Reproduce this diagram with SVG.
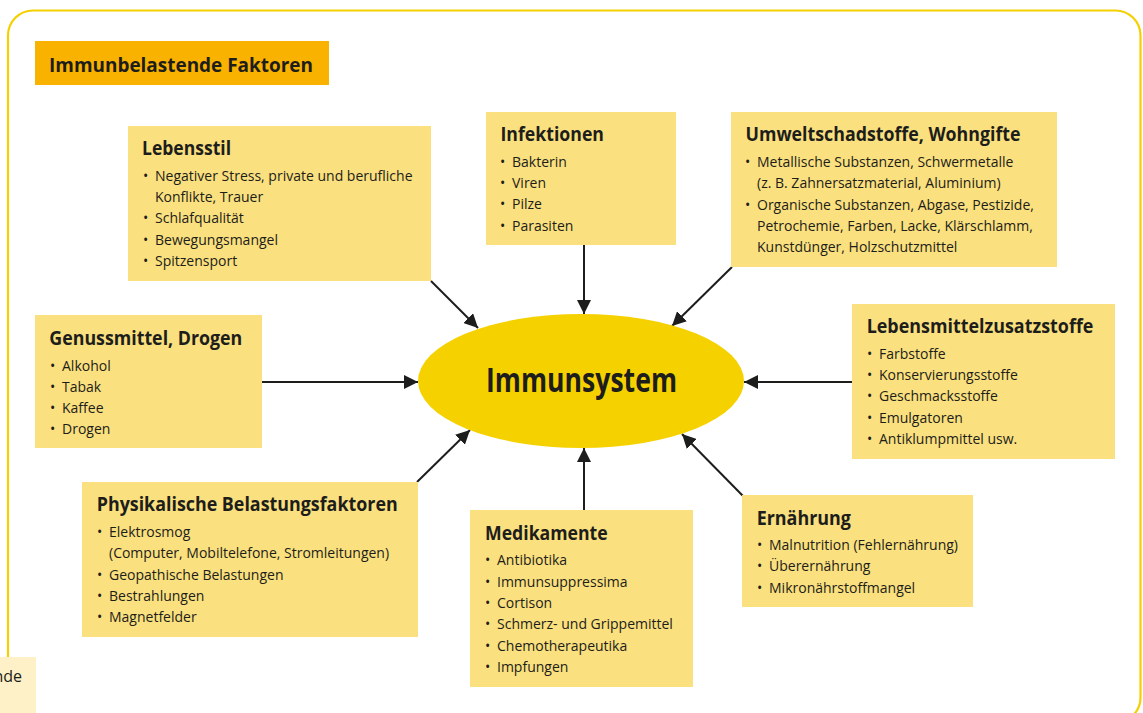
<svg xmlns="http://www.w3.org/2000/svg" width="1143" height="713" viewBox="0 0 1143 713">
<defs>
<style>
.box{fill:#FAE07E}
.t{font-family:"Open Sans","Noto Sans",sans-serif;font-weight:700;font-size:20px;fill:#1d1d1b}
.i{font-family:"Open Sans","Noto Sans",sans-serif;font-size:14px;font-weight:500;fill:#1d1d1b}
.c{stroke:#1d1d1b;stroke-width:2;fill:none}
</style>
<marker id="ah" viewBox="0 0 14 14" refX="14" refY="7" markerWidth="14" markerHeight="14" markerUnits="userSpaceOnUse" orient="auto">
<path d="M0,0 L14,7 L0,14 Z" fill="#1d1d1b"/>
</marker>
</defs>
<rect width="1143" height="713" fill="#fff"/>
<rect x="8" y="10.5" width="1132.5" height="712" rx="25" fill="none" stroke="#F5D000" stroke-width="2.2"/>
<rect x="35" y="41" width="294" height="44" fill="#F9B200"/>
<text x="49" y="72" class="t" textLength="264" lengthAdjust="spacingAndGlyphs">Immunbelastende Faktoren</text>

<g id="connectors">
<line class="c" x1="431" y1="281" x2="478" y2="328" marker-end="url(#ah)"/>
<line class="c" x1="584" y1="245" x2="584" y2="314" marker-end="url(#ah)"/>
<line class="c" x1="732" y1="267" x2="672" y2="326" marker-end="url(#ah)"/>
<line class="c" x1="262" y1="382" x2="418" y2="382" marker-end="url(#ah)"/>
<line class="c" x1="852" y1="382" x2="744" y2="382" marker-end="url(#ah)"/>
<line class="c" x1="417" y1="482" x2="470" y2="430" marker-end="url(#ah)"/>
<line class="c" x1="584" y1="510" x2="584" y2="448" marker-end="url(#ah)"/>
<line class="c" x1="743" y1="496" x2="682" y2="434" marker-end="url(#ah)"/>
</g>

<g id="immunsystem">
<ellipse cx="581" cy="381" rx="163" ry="67" fill="#F6D100"/>
<text x="486" y="392" class="t" style="font-size:34px" textLength="191" lengthAdjust="spacingAndGlyphs">Immunsystem</text>
</g>

<g id="lebensstil">
<rect class="box" x="128" y="126" width="303" height="155"/>
<text class="t" x="142" y="155" textLength="89" lengthAdjust="spacingAndGlyphs">Lebensstil</text>
<text class="i" x="143" y="181">•</text><text class="i" x="155" y="181">Negativer Stress, private und berufliche</text>
<text class="i" x="155" y="202">Konflikte, Trauer</text>
<text class="i" x="143" y="223">•</text><text class="i" x="155" y="223">Schlafqualität</text>
<text class="i" x="143" y="245">•</text><text class="i" x="155" y="245">Bewegungsmangel</text>
<text class="i" x="143" y="266">•</text><text class="i" x="155" y="266">Spitzensport</text>
</g>

<g id="infektionen">
<rect class="box" x="486" y="112" width="190" height="133"/>
<text class="t" x="500.5" y="141" textLength="103.5" lengthAdjust="spacingAndGlyphs">Infektionen</text>
<text class="i" x="500" y="167">•</text><text class="i" x="512" y="167">Bakterin</text>
<text class="i" x="500" y="188">•</text><text class="i" x="512" y="188">Viren</text>
<text class="i" x="500" y="209">•</text><text class="i" x="512" y="209">Pilze</text>
<text class="i" x="500" y="231">•</text><text class="i" x="512" y="231">Parasiten</text>
</g>

<g id="umwelt">
<rect class="box" x="731" y="112" width="326" height="155"/>
<text class="t" x="745.5" y="141" textLength="275" lengthAdjust="spacingAndGlyphs">Umweltschadstoffe, Wohngifte</text>
<text class="i" x="745" y="167">•</text><text class="i" x="757" y="167">Metallische Substanzen, Schwermetalle</text>
<text class="i" x="757" y="188">(z. B. Zahnersatzmaterial, Aluminium)</text>
<text class="i" x="745" y="210">•</text><text class="i" x="757" y="210">Organische Substanzen, Abgase, Pestizide,</text>
<text class="i" x="757" y="231">Petrochemie, Farben, Lacke, Klärschlamm,</text>
<text class="i" x="757" y="252">Kunstdünger, Holzschutzmittel</text>
</g>

<g id="genussmittel">
<rect class="box" x="35" y="315" width="227" height="133"/>
<text class="t" x="49.3" y="345" textLength="193" lengthAdjust="spacingAndGlyphs">Genussmittel, Drogen</text>
<text class="i" x="50" y="371">•</text><text class="i" x="62" y="371">Alkohol</text>
<text class="i" x="50" y="392">•</text><text class="i" x="62" y="392">Tabak</text>
<text class="i" x="50" y="413">•</text><text class="i" x="62" y="413">Kaffee</text>
<text class="i" x="50" y="434">•</text><text class="i" x="62" y="434">Drogen</text>
</g>

<g id="lebensmittel">
<rect class="box" x="852" y="304" width="263" height="155"/>
<text class="t" x="866.7" y="333" textLength="226.6" lengthAdjust="spacingAndGlyphs">Lebensmittelzusatzstoffe</text>
<text class="i" x="867" y="359">•</text><text class="i" x="879" y="359">Farbstoffe</text>
<text class="i" x="867" y="380">•</text><text class="i" x="879" y="380">Konservierungsstoffe</text>
<text class="i" x="867" y="401">•</text><text class="i" x="879" y="401">Geschmacksstoffe</text>
<text class="i" x="867" y="423">•</text><text class="i" x="879" y="423">Emulgatoren</text>
<text class="i" x="867" y="444">•</text><text class="i" x="879" y="444">Antiklumpmittel usw.</text>
</g>

<g id="physikalisch">
<rect class="box" x="82" y="482" width="336" height="155"/>
<text class="t" x="96.7" y="511" textLength="301" lengthAdjust="spacingAndGlyphs">Physikalische Belastungsfaktoren</text>
<text class="i" x="97" y="537">•</text><text class="i" x="109" y="537">Elektrosmog</text>
<text class="i" x="109" y="558">(Computer, Mobiltelefone, Stromleitungen)</text>
<text class="i" x="97" y="580">•</text><text class="i" x="109" y="580">Geopathische Belastungen</text>
<text class="i" x="97" y="601">•</text><text class="i" x="109" y="601">Bestrahlungen</text>
<text class="i" x="97" y="622">•</text><text class="i" x="109" y="622">Magnetfelder</text>
</g>

<g id="medikamente">
<rect class="box" x="470" y="510" width="223" height="177"/>
<text class="t" x="485" y="540" textLength="122.7" lengthAdjust="spacingAndGlyphs">Medikamente</text>
<text class="i" x="485" y="565">•</text><text class="i" x="497" y="565">Antibiotika</text>
<text class="i" x="485" y="587">•</text><text class="i" x="497" y="587">Immunsuppressima</text>
<text class="i" x="485" y="608">•</text><text class="i" x="497" y="608">Cortison</text>
<text class="i" x="485" y="629">•</text><text class="i" x="497" y="629">Schmerz- und Grippemittel</text>
<text class="i" x="485" y="651">•</text><text class="i" x="497" y="651">Chemotherapeutika</text>
<text class="i" x="485" y="672">•</text><text class="i" x="497" y="672">Impfungen</text>
</g>

<g id="ernaehrung">
<rect class="box" x="742" y="495" width="231" height="112"/>
<text class="t" x="756.7" y="525" textLength="94.3" lengthAdjust="spacingAndGlyphs">Ernährung</text>
<text class="i" x="757" y="550">•</text><text class="i" x="769" y="550">Malnutrition (Fehlernährung)</text>
<text class="i" x="757" y="571">•</text><text class="i" x="769" y="571">Überernährung</text>
<text class="i" x="757" y="593">•</text><text class="i" x="769" y="593">Mikronährstoffmangel</text>
</g>

<g id="nde">
<rect x="0" y="657" width="36" height="56" fill="#FEF0C7"/>
<text x="22" y="682" text-anchor="end" class="i" style="font-size:16px;font-weight:400">nde</text>
</g>
</svg>
